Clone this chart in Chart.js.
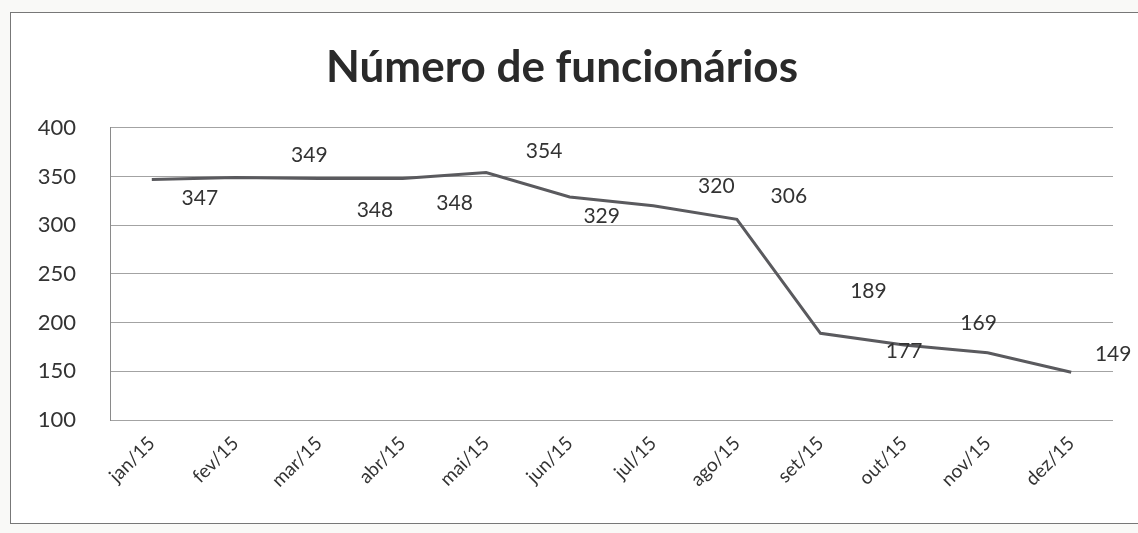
<!doctype html>
<html lang="pt">
  <head>
    <meta charset="UTF-8" />
    <title>Número de funcionários</title>
    <script src="https://cdn.jsdelivr.net/npm/chart.js"></script>
    <style>
      body { margin: 0; background: #f9f9f7; overflow: hidden; }
      #box {
        position: absolute; left: 10px; top: 12px;
        width: 1150px; height: 510px;
        border: 1px solid #777; background: #fff;
      }
    </style>
  </head>
  <body>
    <div id="box"><canvas id="chart" width="1150" height="510"></canvas></div>
    <script>
      const months = ["jan/15", "fev/15", "mar/15", "abr/15", "mai/15", "jun/15",
                      "jul/15", "ago/15", "set/15", "out/15", "nov/15", "dez/15"];
      const employees = [347, 349, 348, 348, 354, 329, 320, 306, 189, 177, 169, 149];
      const yTicks = [100, 150, 200, 250, 300, 350, 400];

      // where each value label sits relative to its point (px), like Excel put them
      const labelNudge = [[48, 19], [74, -22], [56, 32], [52, 25], [58, -21], [32, 19],
                          [63, -19], [52, -23], [48, -42], [0, 6], [-9, -30], [42, -18]];

      const font = "Lato, 'Open Sans', sans-serif";

      const valueLabels = {
        id: "valueLabels",
        afterDatasetsDraw(chart) {
          const ctx = chart.ctx;
          const meta = chart.getDatasetMeta(0);
          ctx.save();
          ctx.font = "21px " + font;
          ctx.fillStyle = "#333";
          ctx.textAlign = "center";
          ctx.textBaseline = "middle";
          meta.data.forEach((pt, i) => {
            ctx.fillText(String(employees[i]), pt.x + labelNudge[i][0], pt.y + labelNudge[i][1]);
          });
          ctx.restore();
        },
      };

      new Chart(document.getElementById("chart"), {
        type: "line",
        data: {
          labels: months,
          datasets: [{
            label: "Funcionários",
            data: employees,
            borderColor: "#5a5a5e",
            borderWidth: 3,
            pointRadius: 0,
            tension: 0,
          }],
        },
        options: {
          responsive: false,
          animation: false,
          layout: { padding: { right: 48, top: 0, bottom: 0 } },
          plugins: {
            legend: { display: false },
            tooltip: { enabled: false },
            title: {
              display: true,
              text: "Número de funcionários",
              color: "#2a2a2a",
              font: { family: font, size: 44, weight: "bold" },
              padding: { top: 28, bottom: 34 },
            },
          },
          scales: {
            x: {
              offset: true,
              grid: { display: false, drawTicks: false },
              border: { display: false },
              ticks: {
                minRotation: 45, maxRotation: 45, padding: 12,
                color: "#333", font: { family: font, size: 19 },
              },
              afterFit(scale) { scale.height = 103; },
            },
            y: {
              min: 100, max: 400,
              afterBuildTicks(scale) { scale.ticks = yTicks.map((v) => ({ value: v })); },
              grid: { color: "#a3a3a3", lineWidth: 1, drawTicks: false },
              border: { display: true, color: "#8a8a8a" },
              ticks: { padding: 34, color: "#333", font: { family: font, size: 22 } },
              afterFit(scale) { scale.width = 99; },
            },
          },
        },
        plugins: [valueLabels],
      });
    </script>
  </body>
</html>
